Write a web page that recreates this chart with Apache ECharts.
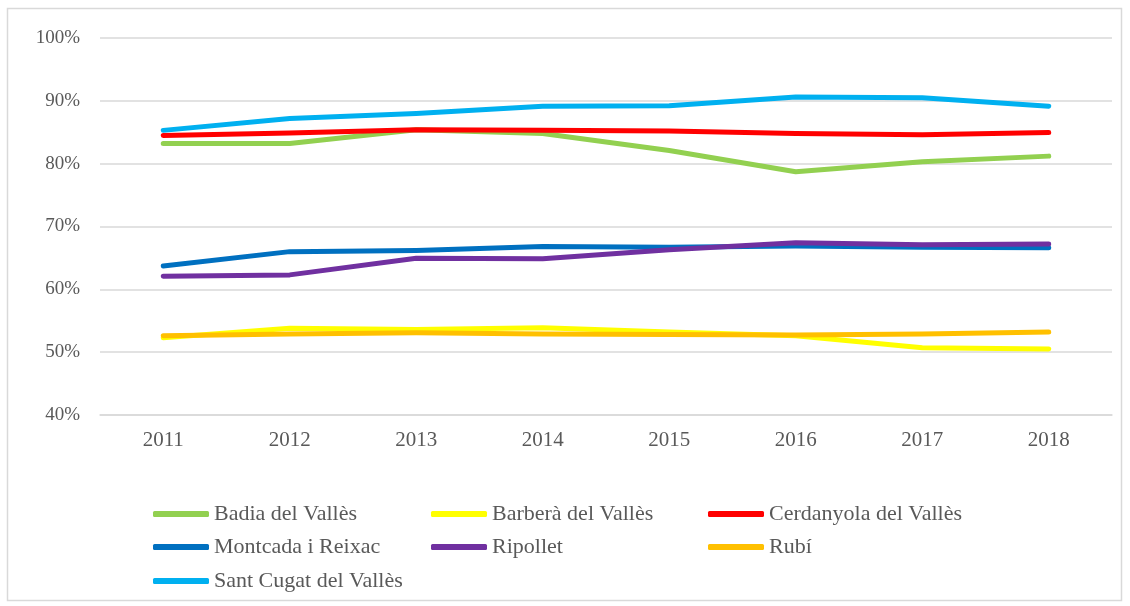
<!DOCTYPE html>
<html><head><meta charset="utf-8">
<script src="https://cdn.jsdelivr.net/npm/echarts@6/dist/echarts.min.js"></script>
<style>html,body{margin:0;padding:0;background:#fff}#c{width:1130px;height:606px}</style>
</head><body><div id="c"></div>
<script>
var years = ['2011','2012','2013','2014','2015','2016','2017','2018'];
var badia      = [83.2, 83.2, 85.4, 84.8, 82.1, 78.7, 80.3, 81.2];
var barbera    = [52.3, 53.8, 53.6, 53.9, 53.2, 52.6, 50.7, 50.5];
var cerdanyola = [84.5, 84.9, 85.4, 85.3, 85.2, 84.8, 84.6, 84.95];
var montcada   = [63.7, 66.0, 66.2, 66.8, 66.7, 66.9, 66.7, 66.6];
var ripollet   = [62.1, 62.3, 64.95, 64.85, 66.3, 67.4, 67.1, 67.2];
var rubi       = [52.6, 52.9, 53.1, 52.9, 52.8, 52.75, 52.9, 53.2];
var santcugat  = [85.3, 87.2, 88.0, 89.15, 89.2, 90.6, 90.5, 89.15];
var yTicks = [40, 100, 10];

var names = ['Badia del Vallès','Barberà del Vallès','Cerdanyola del Vallès','Montcada i Reixac','Ripollet','Rubí','Sant Cugat del Vallès'];
var datas = [badia, barbera, cerdanyola, montcada, ripollet, rubi, santcugat];
var colors = ['#92d050','#ffff00','#ff0000','#0070c0','#7030a0','#ffc000','#00b0f0'];
var font = '"Liberation Serif", "DejaVu Serif", serif';

var legendPos = [[153,503],[431,503],[708,503],[153,536],[431,536],[708,536],[153,570]];
var legends = names.map(function(n,i){
  return {
    data:[n], left:legendPos[i][0], top:legendPos[i][1], padding:0,
    icon:'roundRect', itemWidth:56, itemHeight:6, itemGap:0,
    textStyle:{fontFamily:font, fontSize:22, color:'#595959'},
    selectedMode:false
  };
});

var chart = echarts.init(document.getElementById('c'), null, {renderer:'canvas'});
chart.setOption({
  animation:false,
  color: colors,
  graphic:[{type:'rect', shape:{x:7.5,y:8.5,width:1114,height:592}, style:{fill:'none', stroke:'#d9d9d9', lineWidth:1.5}, silent:true}],
  legend: legends,
  grid:{left:100, right:18, top:38, bottom:191},
  xAxis:{
    type:'category', data:years, boundaryGap:true,
    axisLine:{show:true, lineStyle:{color:'#d9d9d9', width:1.5}},
    axisTick:{show:false},
    axisLabel:{fontFamily:font, fontSize:21, color:'#595959', margin:15}
  },
  yAxis:{
    type:'value', min:yTicks[0], max:yTicks[1], interval:yTicks[2],
    axisLine:{show:false}, axisTick:{show:false},
    splitLine:{lineStyle:{color:'#d9d9d9', width:1.5}},
    axisLabel:{fontFamily:font, fontSize:19, color:'#595959', margin:20, formatter:'{value}%'}
  },
  series: names.map(function(n,i){
    return {name:n, type:'line', data:datas[i], showSymbol:false, symbol:'none',
      lineStyle:{width:5, color:colors[i], cap:'round', join:'round'},
      itemStyle:{color:colors[i]}, z:2+i};
  })
});
</script></body></html>
